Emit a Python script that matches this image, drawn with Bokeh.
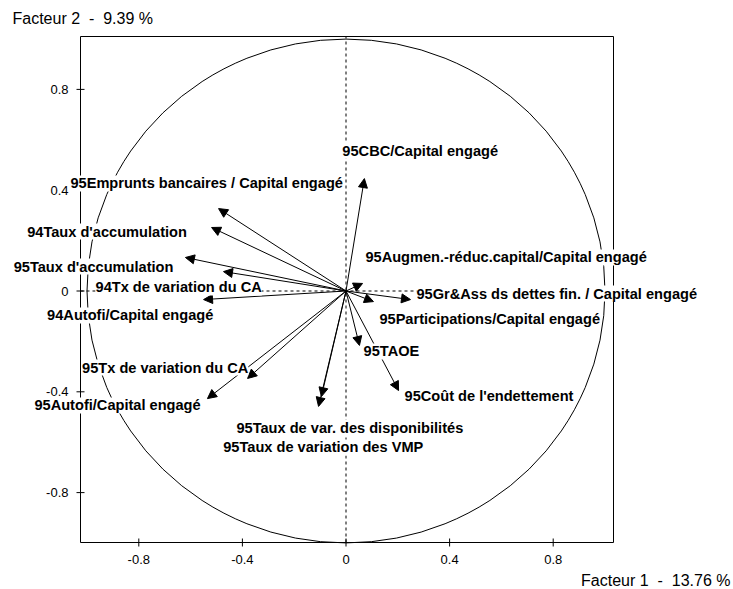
from bokeh.plotting import figure
from bokeh.models import (ColumnDataSource, LabelSet, Arrow, NormalHead, Range1d)
from bokeh.embed import file_html
from bokeh.resources import INLINE
from bokeh.core.properties import value

# ---- data ----
variables = [
    "95CBC/Capital engagé",
    "95Emprunts bancaires / Capital engagé",
    "94Taux d'accumulation",
    "95Taux d'accumulation",
    "94Tx de variation du CA",
    "94Autofi/Capital engagé",
    "95Augmen.-réduc.capital/Capital engagé",
    "95Gr&Ass ds dettes fin. / Capital engagé",
    "95Participations/Capital engagé",
    "95TAOE",
    "95Coût de l'endettement",
    "95Taux de var. des disponibilités",
    "95Taux de variation des VMP",
    "95Tx de variation du CA",
    "95Autofi/Capital engagé",
]
facteur1 = [0.071, -0.492, -0.519, -0.620, -0.473, -0.550, 0.064, 0.249, 0.106,
            0.052, 0.203, -0.095, -0.106, -0.380, -0.535]
facteur2 = [0.446, 0.327, 0.252, 0.133, 0.077, -0.034, 0.030, -0.034, -0.042,
            -0.216, -0.395, -0.419, -0.458, -0.347, -0.427]

# label anchor points (left edge, vertical middle), data units
label_x = [-0.014, -1.064, -1.231, -1.283, -0.967, -1.154, 0.075, 0.272, 0.129,
           0.068, 0.226, -0.423, -0.474, -1.019, -1.203]
label_y = [0.557, 0.427, 0.236, 0.097, 0.014, -0.097, 0.133, -0.010, -0.113,
           -0.240, -0.415, -0.542, -0.621, -0.304, -0.454]

tick_values = [-0.8, -0.4, 0, 0.4, 0.8]
tick_labels = ["-0.8", "-0.4", "0", "0.4", "0.8"]
x_title = "Facteur 1 \u00a0-\u00a0 13.76 %"
y_title = "Facteur 2 \u00a0-\u00a0 9.39 %"

# ---- layout: the canvas is the whole frame; the plot box is drawn inside ----
W, H = 733, 589
CX, CY = 345.5, 290.5      # pixel position of the origin
SX, SY = 259.0, 252.0      # pixels per unit
def px_x(px):
    return (px - CX) / SX
def px_y(py):
    return (CY - py) / SY

BOX_L, BOX_R, BOX_T, BOX_B = px_x(80), px_x(613), px_y(36), px_y(542)
FONT = value("helvetica")

p = figure(width=W, height=H,
           x_range=Range1d(px_x(0), px_x(W)), y_range=Range1d(px_y(H), px_y(0)),
           output_backend="svg", toolbar_location=None,
           x_axis_location=None, y_axis_location=None,
           min_border=0)
p.outline_line_color = None
p.background_fill_color = "white"
p.border_fill_color = "white"
p.grid.visible = False

# dashed axes through the origin
p.segment(x0=[BOX_L, 0], y0=[0, BOX_B], x1=[BOX_R, 0], y1=[0, BOX_T],
          line_color="black", line_width=1, line_dash="3 3")

# correlation circle
p.ellipse(x=0, y=0, width=2, height=2, fill_color=None,
          line_color="black", line_width=1)

# plot box
p.quad(left=BOX_L, right=BOX_R, bottom=BOX_B, top=BOX_T, fill_color=None,
       line_color="black", line_width=1)

# ticks (crossing the box lines)
t_in, t_out = 4.0, 4.0
n = len(tick_values)
p.segment(x0=tick_values, x1=tick_values,
          y0=[BOX_B - t_out / SY] * n, y1=[BOX_B + t_in / SY] * n,
          line_color="black", line_width=1)
p.segment(y0=tick_values, y1=tick_values,
          x0=[BOX_L - t_out / SX] * n, x1=[BOX_L + t_in / SX] * n,
          line_color="black", line_width=1)

# tick labels
p.text(x=tick_values, y=[BOX_B - 12.0 / SY] * n, text=tick_labels,
       text_font=FONT, text_font_size="13px", text_color="black",
       text_align="center", text_baseline="top")
p.text(x=[BOX_L - 12.0 / SX] * n, y=tick_values, text=tick_labels,
       text_font=FONT, text_font_size="13px", text_color="black",
       text_align="right", text_baseline="middle")

# axis titles
p.text(x=[px_x(12)], y=[px_y(18)], text=[y_title], text_font=FONT,
       text_font_size="16px", text_color="black",
       text_align="left", text_baseline="middle")
p.text(x=[px_x(730)], y=[px_y(580)], text=[x_title], text_font=FONT,
       text_font_size="16px", text_color="black",
       text_align="right", text_baseline="middle")

src = ColumnDataSource(data=dict(
    x0=[0.0] * len(variables), y0=[0.0] * len(variables),
    x=facteur1, y=facteur2, name=variables, lx=label_x, ly=label_y))

p.add_layout(Arrow(end=NormalHead(size=9, fill_color="black", line_color="black",
                                  line_width=1),
                   x_start="x0", y_start="y0", x_end="x", y_end="y",
                   line_color="black", line_width=1, source=src))

labels = LabelSet(x="lx", y="ly", text="name", source=src,
                  text_font=FONT, text_font_size="14.6px", text_font_style="bold",
                  text_color="black", text_align="left", text_baseline="middle",
                  background_fill_color="white", background_fill_alpha=1.0)
p.add_layout(labels)

open("out.html", "w").write(file_html(p, INLINE))
